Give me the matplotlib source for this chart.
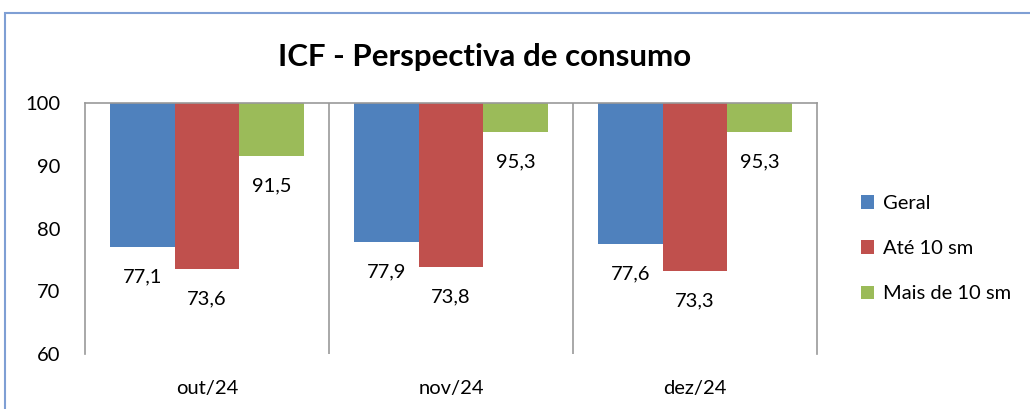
import matplotlib.pyplot as plt
from matplotlib.patches import Rectangle
import numpy as np

plt.rcParams['font.family'] = ['Lato', 'DejaVu Sans']

# data
months = ['out/24', 'nov/24', 'dez/24']
geral = [77.1, 77.9, 77.6]
ate_10 = [73.6, 73.8, 73.3]
mais_10 = [91.5, 95.3, 95.3]
series_names = ['Geral', 'Até 10 sm', 'Mais de 10 sm']
colors = ['#4f81bd', '#c0504d', '#9bbb59']

fig = plt.figure(figsize=(10.3, 4.09), dpi=100)
# outer chart frame (cut off at right and bottom like the source)
fig.patches.append(Rectangle((5 / 1030, -0.1), 1.2, 1 - 13 / 409 + 0.1,
                             transform=fig.transFigure, fill=False,
                             edgecolor='#7f9fd4', linewidth=1.5))

ax = fig.add_axes([85 / 1030, 1 - 354 / 409, (817 - 85) / 1030, (354 - 103) / 409])

x = np.arange(len(months))
w = 65 / 245
base = 100
for i, vals in enumerate([geral, ate_10, mais_10]):
    vals = np.array(vals)
    pos = x + (i - 1) * w
    ax.bar(pos, base - vals, bottom=vals, width=w, color=colors[i],
           label=series_names[i], edgecolor='none')
    for px, v in zip(pos, vals):
        ax.annotate(f'{v:.1f}'.replace('.', ','), (px, v), xytext=(0, -21.5),
                    textcoords='offset points', ha='center', va='center',
                    fontsize=14.5)

ax.set_xlim(-0.5, 2.5)
ax.set_ylim(60, 100)
ax.set_yticks([60, 70, 80, 90, 100])
ax.set_xticks(x)
ax.set_xticklabels(months)
ax.tick_params(axis='both', length=0, labelsize=14.5)
ax.tick_params(axis='x', pad=19)
ax.tick_params(axis='y', pad=18)

ax.spines['bottom'].set_visible(False)
for s in ['top', 'left', 'right']:
    ax.spines[s].set_color('#999999')
    ax.spines[s].set_linewidth(1.2)
for xv in [0.5, 1.5]:
    ax.axvline(xv, color='#999999', linewidth=1.2)

fig.text(485 / 1030, 1 - 57 / 409, 'ICF - Perspectiva de consumo', ha='center',
         va='center', fontsize=22.5, fontweight='bold')

fig.legend(loc='upper left', bbox_to_anchor=(851 / 1030, 1 - 185 / 409),
           frameon=False, fontsize=14.5, handlelength=0.65, handleheight=0.65,
           labelspacing=1.4, handletextpad=0.45, borderpad=0)

fig.savefig('out.png', dpi=100)
